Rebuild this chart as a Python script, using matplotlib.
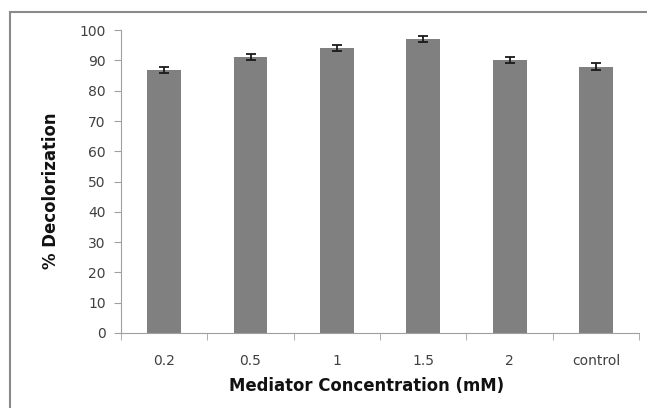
import matplotlib.pyplot as plt
from matplotlib.patches import Rectangle
import numpy as np

# Decolorization vs mediator concentration
categories = ["0.2", "0.5", "1", "1.5", "2", "control"]
decolorization = [87, 91, 94, 97, 90, 88]
errors = [1, 1, 1, 1, 1, 1]

fig = plt.figure(figsize=(6.47, 4.08), dpi=100)
ax = fig.add_axes([0.187, 0.184, 0.801, 0.742])

x = np.arange(len(categories))
ax.bar(x, decolorization, width=0.39, color="#808080", zorder=2)
ax.errorbar(x, decolorization, yerr=errors, fmt="none", ecolor="#1a1a1a",
            elinewidth=1.3, capsize=3.5, capthick=1.3, zorder=3)

ax.set_xlim(-0.5, len(categories) - 0.5)
ax.set_ylim(0, 100)
ax.set_yticks(range(0, 101, 10))

# category labels centred, tick marks on the boundaries
ax.set_xticks(x)
ax.set_xticklabels(categories)
ax.tick_params(axis="x", length=0, pad=15, labelsize=10, labelcolor="#404040")
ax.set_xticks(np.arange(-0.5, len(categories)), minor=True)
ax.tick_params(axis="x", which="minor", length=5, color="#a0a0a0", direction="out")
ax.tick_params(axis="y", length=5, color="#a0a0a0", labelsize=10,
               labelcolor="#404040", pad=6)

for side in ["top", "right"]:
    ax.spines[side].set_visible(False)
for side in ["left", "bottom"]:
    ax.spines[side].set_color("#a0a0a0")

ax.set_xlabel("Mediator Concentration (mM)", fontsize=11.9, fontweight="heavy",
              color="#111111")
ax.xaxis.set_label_coords(0.473, -0.145)
ax.set_ylabel("% Decolorization", fontsize=11.9, fontweight="heavy",
              color="#111111")
ax.yaxis.set_label_coords(-0.118, 0.47)

# outer chart frame
fig.patches.append(Rectangle((10 / 647, -0.05), 1.0, 1 - 12 / 408 + 0.05,
                             transform=fig.transFigure, fill=False,
                             edgecolor="#8a8a8a", linewidth=1.5))

fig.savefig("out.png", dpi=100)
